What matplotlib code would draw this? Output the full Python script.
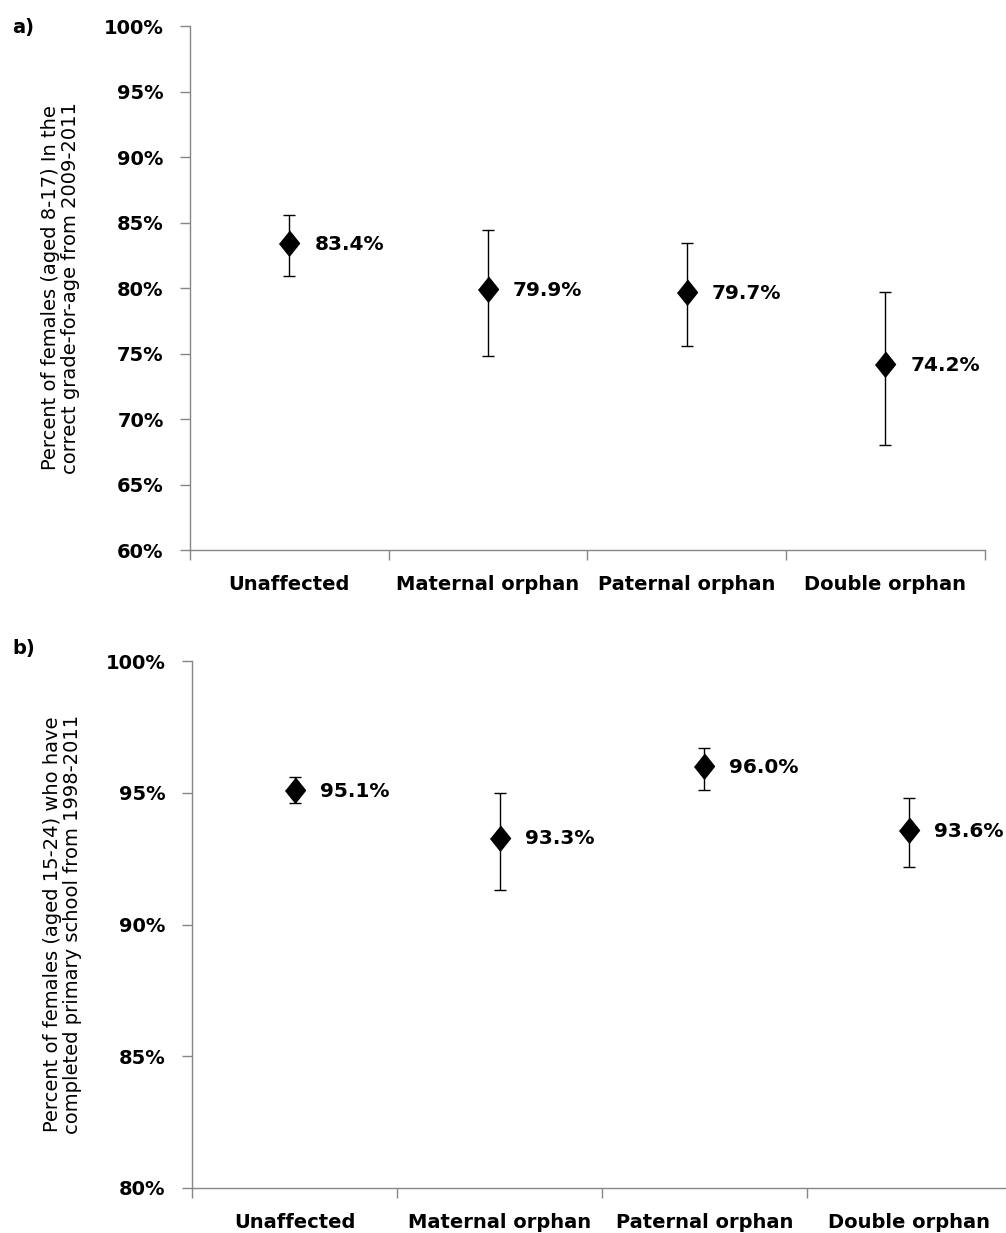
import matplotlib
matplotlib.use('Agg')
import matplotlib.pyplot as plt
from matplotlib.ticker import FixedLocator, PercentFormatter


# data
categories = ['Unaffected', 'Maternal orphan', 'Paternal orphan', 'Double orphan']

grade_values = [83.4, 79.9, 79.7, 74.2]
grade_upper = [85.6, 84.4, 83.4, 79.7]
grade_lower = [80.9, 74.8, 75.6, 68.0]
grade_ylabel = 'Percent of females (aged 8-17) In the\ncorrect grade-for-age from 2009-2011'

primary_values = [95.1, 93.3, 96.0, 93.6]
primary_upper = [95.6, 95.0, 96.7, 94.8]
primary_lower = [94.6, 91.3, 95.1, 92.2]
primary_ylabel = 'Percent of females (aged 15-24) who have\ncompleted primary school from 1998-2011'

GRAY = '#868686'
DIAMOND = [(0, 1), (0.8, 0), (0, -1), (-0.8, 0)]

plt.rcParams['font.family'] = ['DejaVu Sans']


def draw_panel(ax, values, lower, upper, ylim, ystep, ylabel):
    xs = list(range(len(values)))
    yerr = [[v - lo for v, lo in zip(values, lower)],
            [hi - v for v, hi in zip(values, upper)]]
    ax.errorbar(xs, values, yerr=yerr, fmt='none', ecolor='black',
                elinewidth=1.0, capsize=4.5, capthick=1.0, zorder=2)
    ax.plot(xs, values, linestyle='none', marker=DIAMOND, markersize=18,
            color='black', zorder=3)

    for x, v in zip(xs, values):
        ax.annotate('%.1f%%' % v, (x, v), xytext=(18, -1), textcoords='offset points',
                    va='center', ha='left', fontsize=14.5, fontweight='bold')

    ax.set_xlim(-0.5, len(values) - 0.5)
    ax.set_ylim(*ylim)

    # major ticks on category borders, labels on minor ticks
    ax.xaxis.set_major_locator(FixedLocator([i - 0.5 for i in range(len(values) + 1)]))
    ax.xaxis.set_minor_locator(FixedLocator(xs))
    ax.set_xticklabels([], minor=False)
    ax.set_xticklabels(categories, minor=True, fontsize=14, fontweight='bold')
    ax.tick_params(axis='x', which='major', length=7, color=GRAY, width=1)
    ax.tick_params(axis='x', which='minor', length=0, pad=18)

    yt = list(range(ylim[0], ylim[1] + 1, ystep))
    ax.set_yticks(yt)
    ax.yaxis.set_major_formatter(PercentFormatter(decimals=0))
    ax.tick_params(axis='y', length=7, color=GRAY, width=1, pad=12)
    for lab in ax.get_yticklabels():
        lab.set_fontweight('bold')
        lab.set_fontsize(14)

    for side in ['top', 'right']:
        ax.spines[side].set_visible(False)
    for side in ['left', 'bottom']:
        ax.spines[side].set_color(GRAY)
        ax.spines[side].set_linewidth(1)

    ax.set_ylabel(ylabel, fontsize=14, labelpad=17, linespacing=1.1)


fig = plt.figure(figsize=(10.06, 12.33), dpi=100)
ax1 = fig.add_axes([0.1889, 0.5539, 0.790, 0.425])
ax2 = fig.add_axes([0.1909, 0.0365, 0.815, 0.4274])

draw_panel(ax1, grade_values, grade_lower, grade_upper, (60, 100), 5, grade_ylabel)
draw_panel(ax2, primary_values, primary_lower, primary_upper, (80, 100), 5, primary_ylabel)

fig.text(12 / 1006, 1 - 27 / 1233, 'a)', fontsize=14, fontweight='bold', va='center', ha='left')
fig.text(12 / 1006, 1 - 649 / 1233, 'b)', fontsize=14, fontweight='bold', va='center', ha='left')

fig.savefig('out.png', dpi=100)
